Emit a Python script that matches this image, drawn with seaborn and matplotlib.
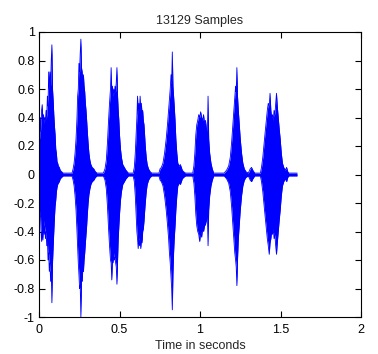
import numpy as np
import pandas as pd
import matplotlib
matplotlib.use("Agg")
import matplotlib.pyplot as plt
import seaborn as sns

# Envelope of the waveform, one small list per burst:
# time (s), upper amplitude, lower amplitude
t1 = [0.000, 0.004, 0.008, 0.012, 0.016, 0.020, 0.024, 0.028, 0.032, 0.036, 0.040, 0.044, 0.048, 0.052,
      0.056, 0.060, 0.064, 0.068, 0.072, 0.076, 0.080, 0.084, 0.088, 0.092, 0.096, 0.100, 0.104, 0.108,
      0.112, 0.116, 0.120, 0.126, 0.132, 0.140, 0.150]
u1 = [0.28, 0.25, 0.40, 0.30, 0.45, 0.49, 0.38, 0.42, 0.36, 0.40, 0.38, 0.45, 0.40, 0.55,
      0.48, 0.72, 0.60, 0.72, 0.62, 0.80, 0.91, 0.60, 0.52, 0.42, 0.34, 0.28, 0.18, 0.15,
      0.09, 0.08, 0.06, 0.05, 0.03, 0.02, 0.01]
l1 = [-0.27, -0.30, -0.25, -0.38, -0.47, -0.40, -0.46, -0.32, -0.42, -0.36, -0.45, -0.40, -0.50, -0.45,
      -0.60, -0.55, -0.68, -0.62, -0.75, -0.68, -0.90, -0.62, -0.50, -0.40, -0.30, -0.22, -0.18, -0.12,
      -0.09, -0.07, -0.06, -0.05, -0.03, -0.02, -0.01]

t2 = [0.205, 0.212, 0.218, 0.224, 0.230, 0.236, 0.240, 0.244, 0.248, 0.252, 0.256, 0.260, 0.264, 0.268,
      0.272, 0.276, 0.280, 0.284, 0.288, 0.292, 0.296, 0.300, 0.305, 0.310, 0.316, 0.322, 0.330, 0.340,
      0.350, 0.360]
u2 = [0.01, 0.04, 0.08, 0.15, 0.25, 0.40, 0.55, 0.60, 0.78, 0.72, 0.85, 0.95, 0.75, 0.72,
      0.65, 0.70, 0.62, 0.58, 0.50, 0.45, 0.38, 0.30, 0.22, 0.15, 0.10, 0.07, 0.05, 0.04,
      0.02, 0.01]
l2 = [-0.01, -0.04, -0.08, -0.15, -0.25, -0.40, -0.52, -0.62, -0.70, -0.80, -0.78, -1.00, -0.74, -0.75,
      -0.66, -0.68, -0.60, -0.55, -0.48, -0.42, -0.36, -0.28, -0.20, -0.14, -0.10, -0.07, -0.05, -0.04,
      -0.02, -0.01]

t3 = [0.400, 0.410, 0.418, 0.425, 0.432, 0.438, 0.444, 0.448, 0.452, 0.456, 0.460, 0.464, 0.468, 0.472,
      0.476, 0.480, 0.484, 0.488, 0.492, 0.496, 0.500, 0.506, 0.512, 0.520, 0.530, 0.540, 0.555]
u3 = [0.01, 0.04, 0.10, 0.22, 0.38, 0.50, 0.60, 0.75, 0.58, 0.62, 0.55, 0.60, 0.56, 0.62,
      0.58, 0.65, 0.75, 0.55, 0.45, 0.38, 0.28, 0.18, 0.12, 0.07, 0.05, 0.03, 0.01]
l3 = [-0.01, -0.04, -0.10, -0.22, -0.38, -0.50, -0.60, -0.62, -0.74, -0.60, -0.62, -0.55, -0.60, -0.58,
      -0.62, -0.65, -0.77, -0.60, -0.45, -0.36, -0.28, -0.18, -0.12, -0.07, -0.05, -0.03, -0.01]

t4 = [0.585, 0.592, 0.598, 0.604, 0.608, 0.612, 0.616, 0.620, 0.624, 0.628, 0.632, 0.636, 0.640, 0.644,
      0.648, 0.652, 0.656, 0.660, 0.666, 0.672, 0.680, 0.690, 0.700]
u4 = [0.01, 0.05, 0.15, 0.30, 0.40, 0.55, 0.42, 0.50, 0.44, 0.55, 0.46, 0.50, 0.42, 0.45,
      0.38, 0.35, 0.28, 0.20, 0.12, 0.07, 0.04, 0.02, 0.01]
l4 = [-0.01, -0.05, -0.15, -0.30, -0.40, -0.45, -0.52, -0.44, -0.50, -0.46, -0.52, -0.45, -0.48, -0.40,
      -0.38, -0.33, -0.26, -0.20, -0.12, -0.07, -0.04, -0.02, -0.01]

t5 = [0.745, 0.752, 0.760, 0.770, 0.780, 0.790, 0.798, 0.805, 0.810, 0.815, 0.820, 0.824, 0.828, 0.832,
      0.836, 0.840, 0.845, 0.850, 0.856, 0.862, 0.870, 0.878, 0.884, 0.890, 0.898, 0.910]
u5 = [0.01, 0.04, 0.05, 0.08, 0.15, 0.25, 0.35, 0.45, 0.52, 0.60, 0.70, 0.65, 0.86, 0.62,
      0.55, 0.48, 0.38, 0.25, 0.15, 0.08, 0.06, 0.07, 0.05, 0.03, 0.02, 0.01]
l5 = [-0.01, -0.04, -0.05, -0.08, -0.15, -0.25, -0.35, -0.45, -0.55, -0.62, -0.72, -0.80, -0.95, -0.70,
      -0.55, -0.45, -0.36, -0.25, -0.15, -0.08, -0.06, -0.07, -0.05, -0.03, -0.02, -0.01]

t6 = [0.955, 0.962, 0.968, 0.974, 0.980, 0.986, 0.992, 0.998, 1.004, 1.010, 1.016, 1.022, 1.028, 1.034,
      1.040, 1.046, 1.050, 1.054, 1.060, 1.068, 1.076, 1.085]
u6 = [0.01, 0.06, 0.15, 0.28, 0.35, 0.38, 0.42, 0.40, 0.44, 0.40, 0.38, 0.42, 0.36, 0.38,
      0.32, 0.30, 0.55, 0.25, 0.15, 0.08, 0.04, 0.01]
l6 = [-0.01, -0.06, -0.15, -0.28, -0.36, -0.40, -0.42, -0.47, -0.40, -0.44, -0.38, -0.40, -0.36, -0.35,
      -0.32, -0.30, -0.50, -0.25, -0.15, -0.08, -0.04, -0.01]

t7 = [1.150, 1.165, 1.178, 1.188, 1.196, 1.204, 1.210, 1.216, 1.221, 1.225, 1.229, 1.233, 1.238, 1.244,
      1.250, 1.258, 1.266, 1.275, 1.285, 1.300, 1.312, 1.320, 1.328, 1.340]
u7 = [0.01, 0.03, 0.06, 0.12, 0.22, 0.35, 0.45, 0.55, 0.62, 0.58, 0.75, 0.55, 0.45, 0.35,
      0.25, 0.15, 0.08, 0.04, 0.02, 0.01, 0.04, 0.05, 0.03, 0.01]
l7 = [-0.01, -0.03, -0.06, -0.12, -0.22, -0.35, -0.45, -0.55, -0.60, -0.65, -0.78, -0.60, -0.45, -0.35,
      -0.25, -0.15, -0.08, -0.04, -0.02, -0.01, -0.04, -0.05, -0.03, -0.01]

t8 = [1.375, 1.382, 1.390, 1.398, 1.405, 1.412, 1.418, 1.424, 1.430, 1.435, 1.440, 1.445, 1.450, 1.455,
      1.460, 1.465, 1.470, 1.475, 1.480, 1.486, 1.492, 1.498, 1.505, 1.512, 1.520, 1.530, 1.538, 1.545,
      1.552, 1.603]
u8 = [0.01, 0.05, 0.12, 0.22, 0.30, 0.38, 0.45, 0.50, 0.48, 0.57, 0.45, 0.40, 0.42, 0.38,
      0.45, 0.42, 0.50, 0.57, 0.48, 0.40, 0.32, 0.25, 0.15, 0.08, 0.05, 0.03, 0.05, 0.02,
      0.01, 0.01]
l8 = [-0.01, -0.05, -0.12, -0.22, -0.30, -0.38, -0.45, -0.50, -0.56, -0.48, -0.45, -0.40, -0.42, -0.38,
      -0.45, -0.42, -0.50, -0.56, -0.48, -0.40, -0.32, -0.25, -0.15, -0.08, -0.05, -0.03, -0.05, -0.02,
      -0.01, -0.01]

title_text = "13129 Samples"
xlabel_text = "Time in seconds"
x_ticks = [0, 0.5, 1, 1.5, 2]
x_tick_labels = ["0", "0.5", "1", "1.5", "2"]
y_ticks = [-1, -0.8, -0.6, -0.4, -0.2, 0, 0.2, 0.4, 0.6, 0.8, 1]
y_tick_labels = ["-1", "-0.8", "-0.6", "-0.4", "-0.2", "0", "0.2", "0.4", "0.6", "0.8", "1"]

sns.set_style("ticks")
plt.rcParams["font.family"] = ["Liberation Sans", "DejaVu Sans"]

bursts = [(t1, u1, l1), (t2, u2, l2), (t3, u3, l3), (t4, u4, l4),
          (t5, u5, l5), (t6, u6, l6), (t7, u7, l7), (t8, u8, l8)]
df = pd.concat([pd.DataFrame({"t": t, "up": u, "lo": l}) for t, u, l in bursts],
               ignore_index=True)
blue = (0, 0, 1)

fig = plt.figure(figsize=(3.78, 3.54), dpi=100, facecolor="white")
ax = fig.add_axes([39 / 378, 37 / 354, 322 / 378, 285 / 354])
ax.set_facecolor("white")

ax.fill_between(df["t"], df["lo"], df["up"], color=blue, linewidth=0)
sns.lineplot(data=df, x="t", y="up", ax=ax, color=blue, linewidth=0.6)
sns.lineplot(data=df, x="t", y="lo", ax=ax, color=blue, linewidth=0.6)

ax.set_xlim(0, 2)
ax.set_ylim(-1, 1)
ax.set_xticks(x_ticks)
ax.set_xticklabels(x_tick_labels)
ax.set_yticks(y_ticks)
ax.set_yticklabels(y_tick_labels)
ax.tick_params(direction="in", length=4, width=0.8, top=True, right=True,
               labelsize=9, colors="black", pad=3)
ax.tick_params(axis="x", pad=5)
for s in ax.spines.values():
    s.set_visible(True)
    s.set_color("black")
    s.set_linewidth(0.8)
ax.set_title(title_text, fontsize=9, pad=6)
ax.set_xlabel(xlabel_text, fontsize=9, labelpad=3)
ax.set_ylabel("")

fig.savefig("out.png", dpi=100, facecolor="white")
